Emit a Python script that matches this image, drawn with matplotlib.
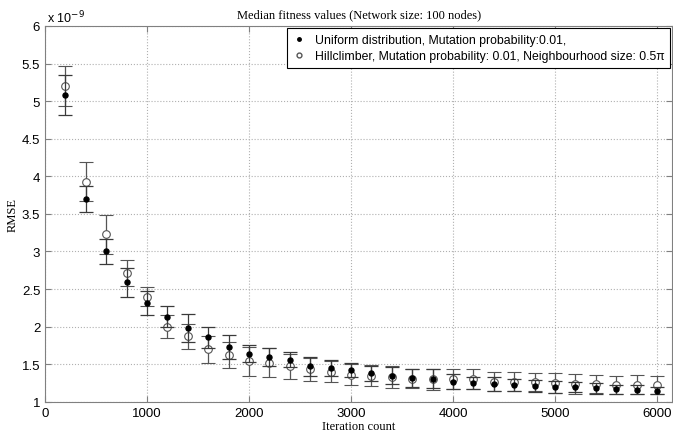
import numpy as np
import matplotlib.pyplot as plt
from matplotlib.lines import Line2D
from matplotlib.ticker import FormatStrFormatter

# iteration counts
iters = [200, 400, 600, 800, 1000, 1200, 1400, 1600, 1800, 2000,
         2200, 2400, 2600, 2800, 3000, 3200, 3400, 3600, 3800, 4000,
         4200, 4400, 4600, 4800, 5000, 5200, 5400, 5600, 5800, 6000]

# median RMSE (x 1e-9)
uniform = [5.08, 3.70, 3.00, 2.59, 2.32, 2.13, 1.98, 1.86, 1.73, 1.64,
           1.59, 1.56, 1.47, 1.45, 1.42, 1.38, 1.35, 1.32, 1.31, 1.27,
           1.25, 1.24, 1.23, 1.21, 1.20, 1.20, 1.18, 1.17, 1.16, 1.15]
uniform_err = [0.27, 0.17, 0.16, 0.19, 0.16, 0.14, 0.19, 0.14, 0.16, 0.11,
               0.12, 0.10, 0.12, 0.10, 0.09, 0.10, 0.11, 0.12, 0.13, 0.10,
               0.08, 0.09, 0.08, 0.08, 0.08, 0.07, 0.07, 0.06, 0.06, 0.05]

hill = [5.20, 3.93, 3.23, 2.71, 2.40, 2.00, 1.87, 1.70, 1.62, 1.54,
        1.52, 1.47, 1.43, 1.40, 1.36, 1.35, 1.33, 1.31, 1.30, 1.30,
        1.30, 1.27, 1.27, 1.26, 1.25, 1.24, 1.24, 1.23, 1.23, 1.23]
hill_err = [0.27, 0.26, 0.26, 0.17, 0.13, 0.15, 0.17, 0.18, 0.17, 0.19,
            0.19, 0.17, 0.15, 0.14, 0.14, 0.14, 0.14, 0.13, 0.14, 0.13,
            0.13, 0.12, 0.12, 0.12, 0.13, 0.13, 0.12, 0.12, 0.13, 0.12]

fig = plt.figure(figsize=(6.73, 4.35), dpi=100)
ax = fig.add_axes([0.067, 0.074, 0.932, 0.864])

ax.errorbar(iters, uniform, yerr=uniform_err, fmt='o', color='black',
            markersize=3.6, ecolor='#3a3a3a', elinewidth=0.9, capsize=5,
            capthick=0.9, zorder=3)
ax.errorbar(iters, hill, yerr=hill_err, fmt='o', markerfacecolor='white',
            markeredgecolor='#555555', markeredgewidth=0.8, markersize=5.5,
            ecolor='#555555', elinewidth=0.9, capsize=5, capthick=0.9,
            zorder=2)

ax.set_xlim(0, 6150)
ax.set_ylim(1, 6)
ax.set_xticks([0, 1000, 2000, 3000, 4000, 5000, 6000])
ax.set_yticks([1, 1.5, 2, 2.5, 3, 3.5, 4, 4.5, 5, 5.5, 6])
ax.yaxis.set_major_formatter(FormatStrFormatter('%g'))

ax.grid(True, linestyle=':', color='#b0b0b0', linewidth=0.8)
for s in ax.spines.values():
    s.set_color('#808080')
ax.tick_params(direction='in', top=True, right=True, colors='#808080',
               labelcolor='black', labelsize=9.5, length=4)
for lab in ax.get_xticklabels() + ax.get_yticklabels():
    lab.set_family('Liberation Sans')

ax.set_title('Median fitness values (Network size: 100 nodes)',
             family='Liberation Serif', fontsize=9, pad=6)
ax.set_xlabel('Iteration count', family='Liberation Serif', fontsize=9,
              labelpad=1)
ax.set_ylabel('RMSE', family='Liberation Serif', fontsize=9, labelpad=2)
ax.text(0.003, 1.003, r'x 10$^{-9}$', transform=ax.transAxes,
        family='Liberation Sans', fontsize=9, va='bottom', ha='left')

handles = [
    Line2D([], [], linestyle='none', marker='o', color='black', markersize=2.5),
    Line2D([], [], linestyle='none', marker='o', markerfacecolor='white',
           markeredgecolor='#555555', markersize=3.5),
]
labels = ['Uniform distribution, Mutation probability:0.01,',
          'Hillclimber, Mutation probability: 0.01, Neighbourhood size: 0.5\u03c0']
leg = ax.legend(handles, labels, loc='upper right',
                bbox_to_anchor=(1.0, 1.0), borderaxespad=0.2,
                fancybox=False, framealpha=1,
                edgecolor='black', handlelength=1.0, handletextpad=0.8,
                borderpad=0.45, labelspacing=0.35,
                prop={'family': 'Liberation Sans', 'size': 8.8})
leg.get_frame().set_linewidth(0.8)

fig.savefig('out.png', dpi=100)
